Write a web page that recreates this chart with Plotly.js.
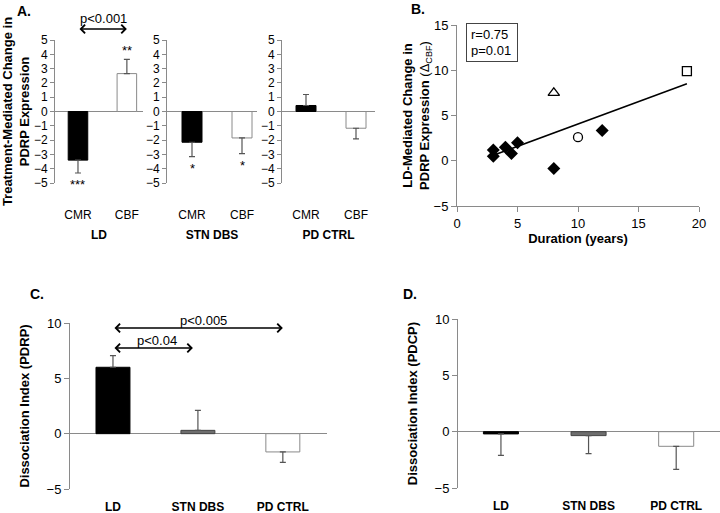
<!DOCTYPE html>
<html><head><meta charset="utf-8">
<script src="https://cdn.plot.ly/plotly-3.0.1.min.js"></script>
<style>html,body{margin:0;padding:0;background:#fff;} #chart{width:720px;height:513px;}</style>
</head><body><div id="chart"></div>
<script>
// ---------- Panel A data ----------
const aCategories = ['CMR', 'CBF'];
const aGroups = ['LD', 'STN DBS', 'PD CTRL'];
const ldChange = [-3.4, 2.65];
const ldSem = [0.9, 1.0];
const ldStars = ['***', '**'];
const stnChange = [-2.15, -1.85];
const stnSem = [1.0, 1.1];
const stnStars = ['*', '*'];
const pdChange = [0.42, -1.17];
const pdSem = [0.77, 0.75];
const pdStars = ['', ''];
const aPLabel = 'p<0.001';

// ---------- Panel B data ----------
const bDurDiamond = [3, 3, 4, 4.5, 5, 8, 12];
const bChgDiamond = [0.5, 1.2, 1.5, 0.8, 2.0, -0.85, 3.35];
const bDurTriangle = [8];
const bChgTriangle = [7.5];
const bDurCircle = [10];
const bChgCircle = [2.6];
const bDurSquare = [19];
const bChgSquare = [9.9];
const bFitX = [3, 19];
const bFitY = [0.6, 8.5];
const bStats = ['r=0.75', 'p=0.01'];

// ---------- Panels C & D data ----------
const cdGroups = ['LD', 'STN DBS', 'PD CTRL'];
const pdrpIndex = [6.0, 0.3, -1.65];
const pdrpSem = [1.05, 1.8, 0.95];
const pdcpIndex = [-0.2, -0.35, -1.3];
const pdcpSem = [1.9, 1.6, 2.05];
const cComparisons = [
  {to: 'PD CTRL', label: 'p<0.005'},
  {to: 'STN DBS', label: 'p<0.04'}
];

// ---------- styling ----------
const FONT = 'Liberation Sans, Arial, Helvetica, sans-serif';
const GREY = '#8a8a8a';
const W = 720, H = 513;
const px = p => p / W;
const py = p => 1 - p / H;

function errs(vals, sem) {
  return {
    type: 'data', symmetric: false,
    array: vals.map((v, i) => v >= 0 ? sem[i] : 0),
    arrayminus: vals.map((v, i) => v < 0 ? sem[i] : 0),
    color: '#555', thickness: 1.2, width: 3
  };
}

function barTrace(cats, vals, sem, fills, lines, xa, ya) {
  return {
    type: 'bar', x: cats, y: vals, width: 0.4,
    marker: {color: fills, line: {color: lines, width: 1}},
    error_y: errs(vals, sem), xaxis: xa, yaxis: ya, hoverinfo: 'skip'
  };
}

const aFills = ['#000000', '#ffffff'];
const aLines = ['#000000', GREY];
const cdFills = ['#000000', '#6e6e6e', '#ffffff'];
const cdLines = ['#000000', '#444444', GREY];

const traces = [
  barTrace(aCategories, ldChange, ldSem, aFills, aLines, 'x', 'y'),
  barTrace(aCategories, stnChange, stnSem, aFills, aLines, 'x2', 'y2'),
  barTrace(aCategories, pdChange, pdSem, aFills, aLines, 'x3', 'y3'),
  {type: 'scatter', mode: 'lines', x: bFitX, y: bFitY, line: {color: '#000', width: 1.5}, xaxis: 'x4', yaxis: 'y4'},
  {type: 'scatter', mode: 'markers', x: bDurDiamond, y: bChgDiamond, marker: {symbol: 'diamond', size: 10, color: '#000'}, xaxis: 'x4', yaxis: 'y4'},
  {type: 'scatter', mode: 'markers', x: bDurTriangle, y: bChgTriangle, marker: {symbol: 'triangle-up-open', size: 10, color: '#000', line: {width: 1.3}}, xaxis: 'x4', yaxis: 'y4'},
  {type: 'scatter', mode: 'markers', x: bDurCircle, y: bChgCircle, marker: {symbol: 'circle-open', size: 9, color: '#000', line: {width: 1.3}}, xaxis: 'x4', yaxis: 'y4'},
  {type: 'scatter', mode: 'markers', x: bDurSquare, y: bChgSquare, marker: {symbol: 'square-open', size: 9, color: '#000', line: {width: 1.3}}, xaxis: 'x4', yaxis: 'y4'},
  barTrace(cdGroups, pdrpIndex, pdrpSem, cdFills, cdLines, 'x5', 'y5'),
  barTrace(cdGroups, pdcpIndex, pdcpSem, cdFills, cdLines, 'x6', 'y6')
];

function yBar(top, bottom, range, dtick, fs, anchor, title, standoff) {
  const ax = {
    domain: [py(bottom), py(top)], range: range, dtick: dtick, anchor: anchor,
    showline: true, linecolor: GREY, linewidth: 1, ticks: 'outside', ticklen: 4, tickcolor: GREY,
    showgrid: false, zeroline: true, zerolinecolor: GREY, zerolinewidth: 1.5,
    tickfont: {size: fs, color: '#000'}, fixedrange: true
  };
  if (title) ax.title = {text: title, font: {size: 13, color: '#000'}, standoff: standoff};
  return ax;
}

function xCat(left, right, range, anchor, fs, bold, standoff, title, tstand) {
  const ax = {
    domain: [px(left), px(right)], range: range, type: 'category', anchor: anchor,
    showline: false, ticks: '', showgrid: false, zeroline: false,
    tickfont: {size: fs, color: '#000', weight: bold ? 'bold' : 'normal'},
    ticklabelstandoff: standoff, fixedrange: true
  };
  if (title) ax.title = {text: title, font: {size: 12, color: '#000', weight: 'bold'}, standoff: tstand};
  return ax;
}

const layout = {
  width: W, height: H, margin: {l: 0, r: 0, t: 0, b: 0},
  paper_bgcolor: '#fff', plot_bgcolor: 'rgba(0,0,0,0)', showlegend: false,
  font: {family: FONT, color: '#000', size: 12},
  bargap: 0,
  // Panel A
  xaxis: xCat(55, 143, [-0.47, 1.33], 'y', 12, false, 23, aGroups[0], 9),
  yaxis: yBar(40, 183, [-5, 5], 1, 12, 'x', '<b>Treatment-Mediated Change in<br>PDRP Expression</b>', 4),
  xaxis2: xCat(167, 257, [-0.5, 1.3], 'y2', 12, false, 23, aGroups[1], 9),
  yaxis2: yBar(40, 183, [-5, 5], 1, 12, 'x2'),
  xaxis3: xCat(282, 375, [-0.48, 1.38], 'y3', 12, false, 23, aGroups[2], 9),
  yaxis3: yBar(40, 183, [-5, 5], 1, 12, 'x3'),
  // Panel B
  xaxis4: {domain: [px(457), px(699)], range: [0, 20], dtick: 5, anchor: 'y4',
    showline: true, linecolor: GREY, ticks: 'outside', ticklen: 5, tickcolor: GREY,
    showgrid: false, zeroline: false, tickfont: {size: 13, color: '#000'},
    title: {text: '<b>Duration (years)</b>', font: {size: 13, color: '#000'}, standoff: 4}},
  yaxis4: {domain: [py(206), py(25)], range: [-5, 15], dtick: 5, anchor: 'x4',
    showline: true, linecolor: GREY, ticks: 'outside', ticklen: 5, tickcolor: GREY,
    showgrid: false, zeroline: false, tickfont: {size: 13, color: '#000'},
    title: {text: '<b>LD-Mediated Change in<br>PDRP Expression</b> (Δ<sub>CBF</sub>)', font: {size: 13, color: '#000'}, standoff: 0}},
  // Panel C
  xaxis5: xCat(70, 327, [-0.506, 2.52], 'y5', 12, true, 9),
  yaxis5: Object.assign(yBar(323, 489, [-5, 10], 5, 13, 'x5', '<b>Dissociation Index (PDRP)</b>', 14), {ticklen: 5}),
  // Panel D
  xaxis6: xCat(458, 720, [-0.49, 2.5], 'y6', 12, true, 9),
  yaxis6: Object.assign(yBar(319, 488, [-5, 10], 5, 13, 'x6', '<b>Dissociation Index (PDCP)</b>', 14), {ticklen: 5}),
  annotations: [],
  shapes: []
};

const ann = layout.annotations;
// panel letters
[['A.', 24, 11], ['B.', 418, 9], ['C.', 37, 294], ['D.', 410, 294]].forEach(([t, x, y]) => {
  ann.push({text: '<b>' + t + '</b>', xref: 'paper', yref: 'paper', x: px(x), y: py(y),
    xanchor: 'center', yanchor: 'middle', showarrow: false, font: {size: 14}});
});

// stars in panel A
[[ldChange, ldSem, ldStars, 'x', 'y'], [stnChange, stnSem, stnStars, 'x2', 'y2'], [pdChange, pdSem, pdStars, 'x3', 'y3']]
  .forEach(([vals, sem, stars, xa, ya]) => {
    vals.forEach((v, i) => {
      if (!stars[i]) return;
      const end = v >= 0 ? v + sem[i] : v - sem[i];
      ann.push({text: stars[i], xref: xa, yref: ya, x: aCategories[i], y: end,
        yanchor: 'middle', yshift: v >= 0 ? 9 : -12, showarrow: false, font: {size: 13}});
    });
  });

// comparison arrow in panel A
ann.push({text: '', xref: 'x', yref: 'paper', x: 1, y: py(29), axref: 'x', ax: 0, ayref: 'pixel', ay: 0,
  showarrow: true, arrowside: 'end+start', arrowhead: 4, startarrowhead: 4, arrowsize: 1.1, startarrowsize: 1.1,
  arrowwidth: 1.5, arrowcolor: '#000'});
ann.push({text: aPLabel, xref: 'paper', yref: 'paper', x: px(104), y: py(18), xanchor: 'center', yanchor: 'middle',
  showarrow: false, font: {size: 13}});

// stats box panel B
ann.push({text: bStats.join('<br>'), xref: 'paper', yref: 'paper', x: px(466), y: py(23), xanchor: 'left', yanchor: 'top',
  align: 'left', showarrow: false, bordercolor: '#444', borderwidth: 1, borderpad: 4, bgcolor: '#fff',
  width: 42, height: 29, font: {size: 13}});

// comparison arrows panel C
const cArrowY = [328, 348];
const cTextPos = [[203, 320], [157, 340]];
cComparisons.forEach((c, k) => {
  ann.push({text: '', xref: 'x5', yref: 'paper', x: cdGroups.indexOf(c.to), y: py(cArrowY[k]),
    axref: 'x5', ax: 0, ayref: 'pixel', ay: 0, standoff: k === 1 ? 5 : 0,
    showarrow: true, arrowside: 'end+start', arrowhead: 4, startarrowhead: 4, arrowsize: 1.1, startarrowsize: 1.1,
    arrowwidth: 1.5, arrowcolor: '#000'});
  ann.push({text: c.label, xref: 'paper', yref: 'paper', x: px(cTextPos[k][0]), y: py(cTextPos[k][1]),
    xanchor: 'center', yanchor: 'middle', showarrow: false, font: {size: 13}});
});

Plotly.newPlot('chart', traces, layout, {staticPlot: true, displayModeBar: false});
</script>
</body></html>
